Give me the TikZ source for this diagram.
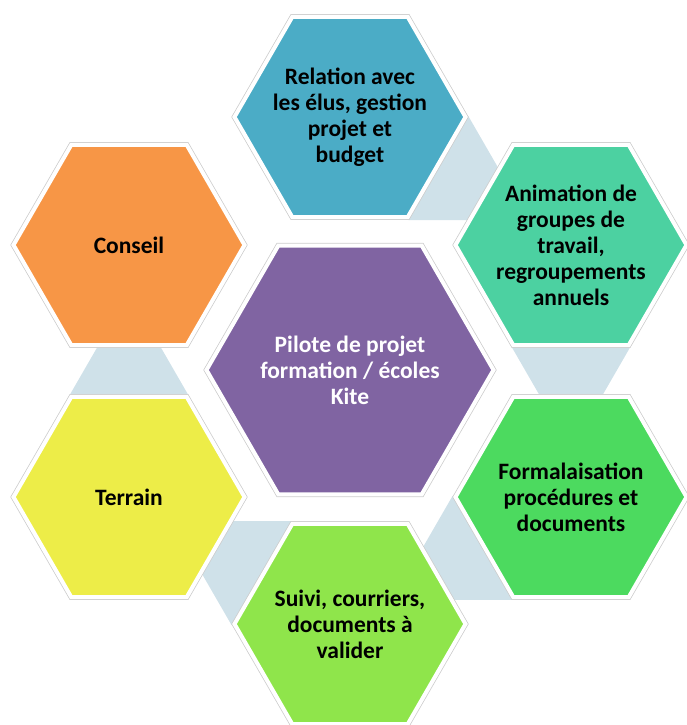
\documentclass[tikz,border=0pt]{standalone}
\usepackage{fontspec}
\setmainfont{Carlito}
\usetikzlibrary{shapes.geometric,calc}

\definecolor{relc}{HTML}{4BACC6}
\definecolor{anic}{HTML}{4CD1A1}
\definecolor{forc}{HTML}{4CDA5F}
\definecolor{suic}{HTML}{8FE54B}
\definecolor{terc}{HTML}{EDED48}
\definecolor{conc}{HTML}{F79646}
\definecolor{pilc}{HTML}{8064A2}
\definecolor{linkc}{HTML}{CFE1E9}

\begin{document}
\begin{tikzpicture}[x=1pt,y=-1pt,
  hexa/.style={regular polygon,regular polygon sides=6,minimum size=231pt,inner sep=0pt,
    fill=#1,draw=white,line width=4pt,preaction={draw=black!20,line width=5.5pt}},
  link/.style={regular polygon,regular polygon sides=6,minimum size=120pt,inner sep=0pt,fill=linkc},
  lbl/.style={font=\bfseries\fontsize{23.5}{26}\selectfont,align=center}]
  \useasboundingbox (0,0) rectangle (687,725);

  \coordinate (crel) at (350,117);
  \coordinate (cani) at (571,245);
  \coordinate (cfor) at (571,497);
  \coordinate (csui) at (350,624);
  \coordinate (cter) at (129,497);
  \coordinate (ccon) at (129,245);

  % connectors behind the cells
  \node[link] (lrelani) at ($(crel)!0.4!(cani)$) {};
  \node[link] (lanifor) at ($(cani)!0.4!(cfor)$) {};
  \node[link] (lforsui) at ($(cfor)!0.4!(csui)$) {};
  \node[link] (lsuiter) at ($(csui)!0.4!(cter)$) {};
  \node[link] (ltercon) at ($(cter)!0.4!(ccon)$) {};

  \node[hexa=pilc,minimum size=287pt] (pilote) at (350,370) {};
  \node[hexa=relc] (rel) at (crel) {};
  \node[hexa=anic] (ani) at (cani) {};
  \node[hexa=forc] (for) at (cfor) {};
  \node[hexa=suic] (sui) at (csui) {};
  \node[hexa=terc] (ter) at (cter) {};
  \node[hexa=conc] (con) at (ccon) {};

  \node[lbl,white] (tpilote) at (pilote) {Pilote de projet\\formation / écoles\\Kite};
  \node[lbl] (trel) at (rel) {Relation avec\\les élus, gestion\\projet et\\budget};
  \node[lbl] (tani) at (ani) {Animation de\\groupes de\\travail,\\regroupements\\annuels};
  \node[lbl] (tfor) at (for) {Formalaisation\\procédures et\\documents};
  \node[lbl] (tsui) at (sui) {Suivi, courriers,\\documents à\\valider};
  \node[lbl] (tter) at (ter) {Terrain};
  \node[lbl] (tcon) at (con) {Conseil};
\end{tikzpicture}
\end{document}
